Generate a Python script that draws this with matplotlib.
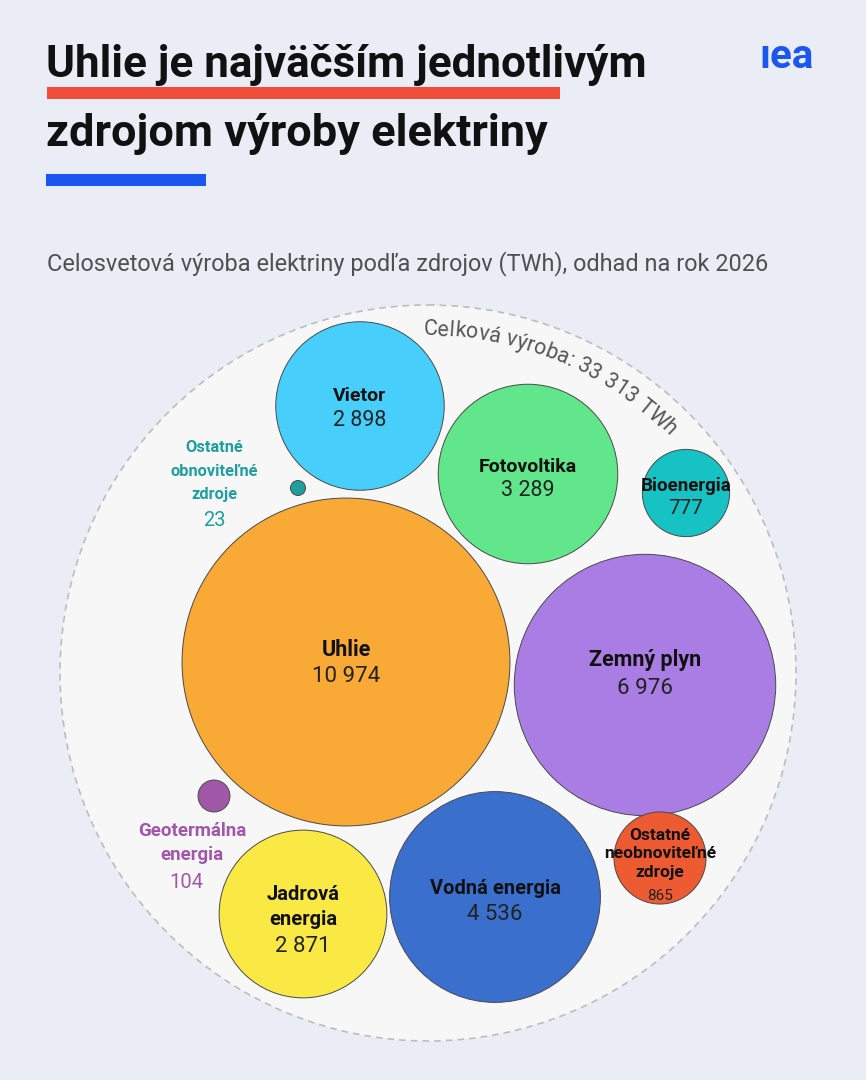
import numpy as np
import matplotlib.pyplot as plt
from matplotlib.patches import Circle, Rectangle

# data
sources = ["Uhlie", "Zemný plyn", "Fotovoltika", "Vietor", "Jadrová energia",
           "Vodná energia", "Bioenergia", "Ostatné neobnoviteľné zdroje",
           "Geotermálna energia", "Ostatné obnoviteľné zdroje"]
values = [10974, 6976, 3289, 2898, 2871, 4536, 777, 865, 104, 23]
labels = ["Uhlie", "Zemný plyn", "Fotovoltika", "Vietor", "Jadrová\nenergia",
          "Vodná energia", "Bioenergia", "Ostatné\nneobnoviteľné\nzdroje",
          "Geotermálna\nenergia", "Ostatné\nobnoviteľné\nzdroje"]
value_text = ["10 974", "6 976", "3 289", "2 898", "2 871", "4 536", "777", "865", "104", "23"]
total_text = "Celková výroba: 33 313 TWh"

# layout (pixel coords, y down)
centers = [(346, 662), (645, 685), (528, 474), (360, 406), (303, 914),
           (495, 897), (686, 493), (660, 858), (214, 796), (298, 488)]
colors = ["#F9A935", "#A97DE3", "#62E68B", "#47CEFA", "#FAE944",
          "#3A6FCE", "#17C2C4", "#EE5B32", "#A057A8", "#1F9E9E"]
k = 1.565  # px per sqrt(TWh)

W, H = 866, 1080
fig = plt.figure(figsize=(W / 100, H / 100), dpi=100)
fig.patch.set_facecolor("#EAEDF6")
ax = fig.add_axes([0, 0, 1, 1])
ax.set_xlim(0, W)
ax.set_ylim(H, 0)
ax.set_axis_off()

FONT = ["Roboto", "DejaVu Sans"]

# title
ax.text(46, 77, "Uhlie je najväčším jednotlivým", fontsize=31.7, fontweight="bold",
        family=FONT, color="#111111", va="baseline")
ax.add_patch(Rectangle((47, 87), 513, 12, color="#F04E3A", lw=0))
ax.text(46, 146, "zdrojom výroby elektriny", fontsize=32.5, fontweight="bold",
        family=FONT, color="#111111", va="baseline")
ax.add_patch(Rectangle((46, 174), 160, 12, color="#1A56F0", lw=0))
ax.text(47, 270, "Celosvetová výroba elektriny podľa zdrojov (TWh), odhad na rok 2026",
        fontsize=16.9, family=FONT, color="#505050", va="baseline")
ax.text(787, 68, "ıea", fontsize=29, fontweight="bold", family=FONT,
        color="#1A56F0", ha="center", va="baseline")

# outer circle
ocx, ocy, orad = 428, 673, 368
ax.add_patch(Circle((ocx, ocy), orad, facecolor="#F7F7F8", edgecolor="#BDBDBD",
                    lw=1.2, ls=(0, (4, 3))))

# bubbles
for (cx, cy), v, c in zip(centers, values, colors):
    ax.add_patch(Circle((cx, cy), k * np.sqrt(v), facecolor=c, edgecolor="#4A4A4A", lw=0.7))

# labels inside: name y, value y, name size, value size
inside = {
    0: (650, 677, 15.5, 16), 1: (660, 688, 15.5, 16), 2: (467, 491, 14, 15.5),
    3: (396, 420, 14, 15.5), 4: (907, 947, 14.5, 16), 5: (888, 915, 14.5, 16),
    6: (486, 508, 13.5, 15),
}
for i, (yn, yv, fn, fv) in inside.items():
    cx = centers[i][0]
    ax.text(cx, yn, labels[i], ha="center", va="center", fontsize=fn,
            fontweight="bold", family=FONT, color="#111111", linespacing=1.45)
    ax.text(cx, yv, value_text[i], ha="center", va="center", fontsize=fv,
            family=FONT, color="#222222")

# Ostatné neobnoviteľné
ax.text(660, 854, labels[7], ha="center", va="center", fontsize=12.5,
        fontweight="bold", family=FONT, color="#111111", linespacing=1.3)
ax.text(660, 896, value_text[7], ha="center", va="center", fontsize=11,
        family=FONT, color="#222222")

# outside labels
ax.text(214, 471, labels[9], ha="center", va="center", fontsize=11.8,
        fontweight="bold", family=FONT, color=colors[9], linespacing=1.75)
ax.text(214, 521, value_text[9], ha="center", va="center", fontsize=14.5,
        family=FONT, color=colors[9])
ax.text(192, 843, labels[8], ha="center", va="center", fontsize=13.5,
        fontweight="bold", family=FONT, color=colors[8], linespacing=1.45)
ax.text(186, 882, value_text[8], ha="center", va="center", fontsize=14.5,
        family=FONT, color=colors[8])

# curved total text along outer circle
renderer = fig.canvas.get_renderer()
arc_r = 343
phi = np.radians(90.8)
for ch in total_text:
    if ch == " ":
        w = 5.5
    else:
        t = ax.text(0, 0, ch, fontsize=15.5, family=FONT)
        w = t.get_window_extent(renderer).width + 0.3
        t.remove()
    mid = phi - (w / 2) / arc_r
    x = ocx + arc_r * np.cos(mid)
    y = ocy - arc_r * np.sin(mid)
    if ch != " ":
        ax.text(x, y, ch, fontsize=15.5, family=FONT, color="#555555",
                ha="center", va="center", rotation=np.degrees(mid) - 90,
                rotation_mode="anchor")
    phi -= w / arc_r

fig.savefig("out.png", dpi=100, facecolor=fig.get_facecolor())
